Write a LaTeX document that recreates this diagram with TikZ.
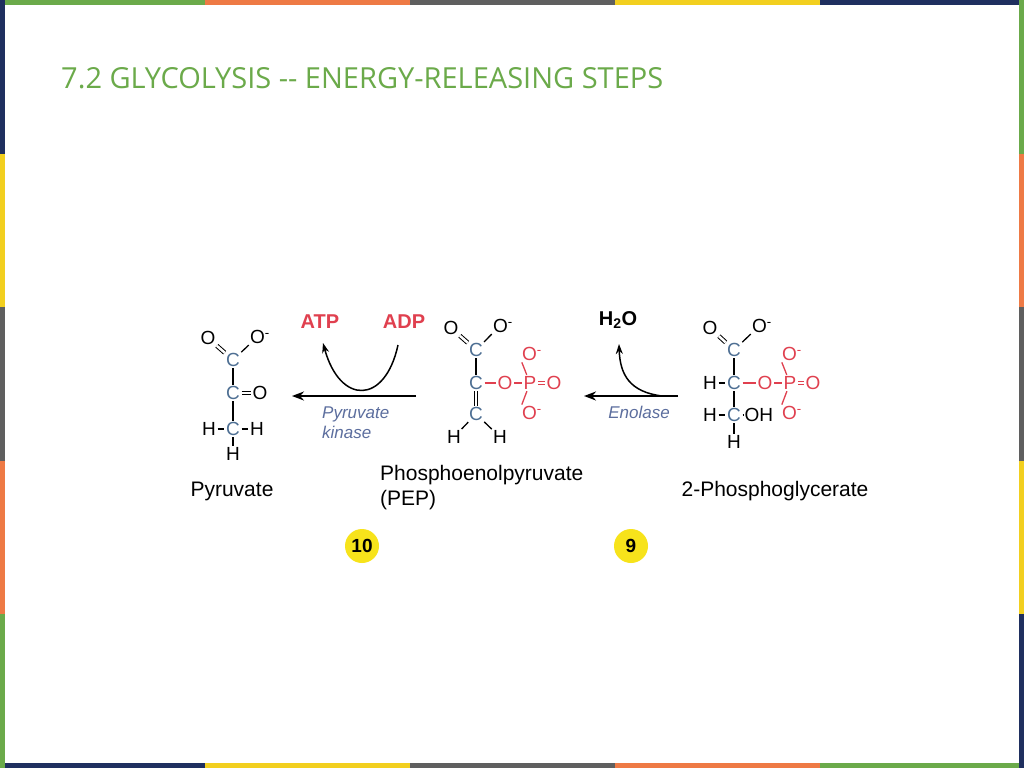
\documentclass[tikz,border=0pt]{standalone}
\usepackage{fontspec}
\setmainfont{Liberation Sans}
\newfontfamily\titlefont{Open Sans}
\usetikzlibrary{arrows.meta}
\definecolor{tgreen}{HTML}{6BAA4A}
\definecolor{borange}{HTML}{EE7A45}
\definecolor{bgray}{HTML}{5F5F5F}
\definecolor{byellow}{HTML}{F2CF1F}
\definecolor{bnavy}{HTML}{1F2F5F}
\definecolor{cblue}{HTML}{4E6F93}
\definecolor{pred}{HTML}{E0404F}
\definecolor{enz}{HTML}{5C6E9E}
\definecolor{badge}{HTML}{F7E31B}
\tikzstyle{atm}=[inner sep = 0.5pt, font = \fontsize{19}{19}\selectfont]
\tikzstyle{ca}=[atm, text = cblue]
\tikzstyle{pa}=[atm, text = pred]
\tikzstyle{bd}=[line width = 1.3pt, shorten < = 1pt, shorten > = 1pt]
\tikzstyle{db}=[bd, double, double distance = 2.5pt, line width = 1pt]
\tikzstyle{nm}=[inner sep = 0pt, font = \fontsize{21}{25}\selectfont, align = left]
\tikzstyle{enzyme}=[inner sep = 0pt, text = enz, font = \fontsize{17}{20}\selectfont\itshape, align = left]
\tikzstyle{cofac}=[inner sep = 0pt, font = \fontsize{20}{20}\selectfont\bfseries]
\tikzstyle{stepno}=[circle, fill = badge, minimum size = 34pt, inner sep = 0pt, font = \fontsize{19}{19}\selectfont\bfseries]
\tikzstyle{rxn}=[line width = 2pt, -{Stealth[length=12pt,width=9pt]}]
\tikzstyle{sidearr}=[line width = 1.5pt, -{Stealth[length=10pt,width=7pt]}]

\begin{document}
\begin{tikzpicture}[x=1pt,y=-1pt]
		\useasboundingbox (0,0) rectangle (1024,768);
		\fill[white] (0,0) rectangle (1024,768);
		% frame
		\foreach \c [count=\i from 0] in {tgreen,borange,bgray,byellow,bnavy}
			\fill[\c] (\i*205,0) rectangle (\i*205+205,5);
		\foreach \c [count=\i from 0] in {bnavy,byellow,bgray,borange,tgreen}
			\fill[\c] (\i*205,763) rectangle (\i*205+205,768);
		\foreach \c [count=\i from 0] in {bnavy,byellow,bgray,borange,tgreen}
			\fill[\c] (0,\i*153.6) rectangle (5,\i*153.6+153.6);
		\foreach \c [count=\i from 0] in {tgreen,borange,bgray,byellow,bnavy}
			\fill[\c] (1019,\i*153.6) rectangle (1024,\i*153.6+153.6);
		
		\node[anchor=base west, inner sep=0pt, text=tgreen, font=\titlefont\fontsize{29}{29}\selectfont] (title) at (61,88) {7.2 GLYCOLYSIS -- ENERGY-RELEASING STEPS};
		
		% pyruvate
		\node[atm] (pO1) at (208,338) {O};
		\node[atm] (pO2) at (260,337) {O\textsuperscript{-}};
		\node[ca] (pC1) at (233,360) {C};
		\node[ca] (pC2) at (233,393) {C};
		\node[atm] (pO3) at (260,393) {O};
		\node[ca] (pC3) at (233,429) {C};
		\node[atm] (pH1) at (209,429) {H};
		\node[atm] (pH2) at (257,429) {H};
		\node[atm] (pH3) at (233,454) {H};
		\draw[db] (pO1) -- (pC1);
		\draw[bd] (pC1) -- (pO2.south west);
		\draw[bd] (pC1) -- (pC2);
		\draw[db] (pC2) -- (pO3);
		\draw[bd] (pC2) -- (pC3);
		\draw[bd] (pH1) -- (pC3);
		\draw[bd] (pC3) -- (pH2);
		\draw[bd] (pC3) -- (pH3);
		
		% PEP
		\node[atm] (eO1) at (451,328) {O};
		\node[atm] (eO2) at (503,326) {O\textsuperscript{-}};
		\node[ca] (eC1) at (476,350) {C};
		\node[ca] (eC2) at (476,383) {C};
		\node[pa] (eO3) at (505,383) {O};
		\node[pa] (eP) at (530,383) {P};
		\node[pa] (eO4) at (554,383) {O};
		\node[pa] (eO5) at (532,354) {O\textsuperscript{-}};
		\node[pa] (eO6) at (532,413) {O\textsuperscript{-}};
		\node[ca] (eC3) at (476,414) {C};
		\node[atm] (eH1) at (454,437) {H};
		\node[atm] (eH2) at (500,437) {H};
		\draw[db] (eO1) -- (eC1);
		\draw[bd] (eC1) -- (eO2.south west);
		\draw[bd] (eC1) -- (eC2);
		\draw[bd, pred] (eC2) -- (eO3);
		\draw[bd, pred] (eO3) -- (eP);
		\draw[db, pred] (eP) -- (eO4);
		\draw[bd, pred] (eP) -- (eO5.south west);
		\draw[bd, pred] (eP) -- (eO6.north west);
		\draw[db] (eC2) -- (eC3);
		\draw[bd] (eC3) -- (eH1);
		\draw[bd] (eC3) -- (eH2);
		
		% 2-phosphoglycerate
		\node[atm] (gO1) at (710,328) {O};
		\node[atm] (gO2) at (762,326) {O\textsuperscript{-}};
		\node[ca] (gC1) at (734,350) {C};
		\node[ca] (gC2) at (734,383) {C};
		\node[atm] (gH1) at (710,383) {H};
		\node[pa] (gO3) at (765,383) {O};
		\node[pa] (gP) at (790,383) {P};
		\node[pa] (gO4) at (813,383) {O};
		\node[pa] (gO5) at (792,354) {O\textsuperscript{-}};
		\node[pa] (gO6) at (792,413) {O\textsuperscript{-}};
		\node[ca] (gC3) at (734,415) {C};
		\node[atm] (gH2) at (710,415) {H};
		\node[atm, anchor=west] (gOH) at (744,415) {OH};
		\node[atm] (gH3) at (734,442) {H};
		\draw[db] (gO1) -- (gC1);
		\draw[bd] (gC1) -- (gO2.south west);
		\draw[bd] (gC1) -- (gC2);
		\draw[bd] (gH1) -- (gC2);
		\draw[bd, pred] (gC2) -- (gO3);
		\draw[bd, pred] (gO3) -- (gP);
		\draw[db, pred] (gP) -- (gO4);
		\draw[bd, pred] (gP) -- (gO5.south west);
		\draw[bd, pred] (gP) -- (gO6.north west);
		\draw[bd] (gC2) -- (gC3);
		\draw[bd] (gH2) -- (gC3);
		\draw[bd] (gC3) -- (gOH);
		\draw[bd] (gC3) -- (gH3);
		
		% names
		\node[nm] (pyr) at (232,491) {Pyruvate};
		\node[nm, anchor=north west] (pep) at (380,465) {Phosphoenolpyruvate\\(PEP)};
		\node[nm] (pga) at (775,491) {2-Phosphoglycerate};
		
		% step 10
		\coordinate (r10s) at (416,396);
		\coordinate (r10e) at (292,396);
		\draw[rxn] (r10s) -- (r10e);
		\node[cofac, text=pred] (atp) at (320,322) {ATP};
		\node[cofac, text=pred] (adp) at (404,322) {ADP};
		\draw[sidearr] (398,345) .. controls (385,405) and (340,405) .. (323,343);
		\node[enzyme, anchor=west] (pk) at (322,423) {Pyruvate\\kinase};
		\node[stepno] (s10) at (362,546) {10};
		
		% step 9
		\coordinate (r9s) at (678,396);
		\coordinate (r9e) at (584,396);
		\draw[rxn] (r9s) -- (r9e);
		\node[cofac] (h2o) at (618,320) {H\textsubscript{2}O};
		\draw[sidearr] (662,396) .. controls (630,392) and (620,375) .. (619,344);
		\node[enzyme] (eno) at (639,412) {Enolase};
		\node[stepno] (s9) at (631,546) {9};
\end{tikzpicture}
\end{document}
